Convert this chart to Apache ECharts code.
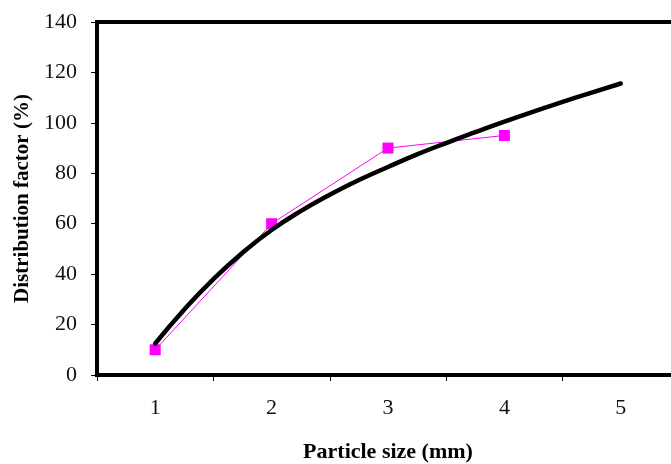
<!DOCTYPE html>
<html><head><meta charset="utf-8">
<script src="https://cdn.jsdelivr.net/npm/echarts@6/dist/echarts.min.js"></script>
<style>html,body{margin:0;padding:0;background:#fff}#c{width:671px;height:464px}</style>
</head><body><div id="c"></div>
<script>
const categories = ['1', '2', '3', '4', '5'];
const measuredX = [1, 2, 3, 4];
const measured = [10, 60, 90, 95];
const trendX = [1, 1.25, 1.5, 1.75, 2, 2.25, 2.5, 2.75, 3, 3.25, 3.5, 3.75, 4, 4.25, 4.5, 4.75, 5];
const trendY = [12.5, 26, 38, 48.5, 57.5, 65, 71.5, 77.3, 82.5, 87.5, 92, 96.3, 100.5, 104.5, 108.3, 112, 115.6];
const yTicks = [0, 20, 40, 60, 80, 100, 120, 140];

const chart = echarts.init(document.getElementById('c'), null, {renderer: 'canvas'});
const font = '"Liberation Serif", "Times New Roman", serif';
chart.setOption({
  animation: false,
  grid: {left: 97, right: -8, top: 22, bottom: 89, outerBoundsMode: 'none', containLabel: false,
    show: true, borderColor: '#000', borderWidth: 4, backgroundColor: 'transparent'},
  xAxis: [{
    type: 'category', data: categories, boundaryGap: true,
    name: 'Particle size (mm)', nameLocation: 'middle', nameGap: 66,
    nameTextStyle: {fontFamily: font, fontWeight: 'bold', fontSize: 22, color: '#000'},
    axisLine: {lineStyle: {color: '#000', width: 4}},
    axisTick: {show: true, inside: false, length: 6, lineStyle: {color: '#000', width: 1}},
    axisLabel: {fontFamily: font, fontSize: 22, color: '#111', margin: 22},
    splitLine: {show: false}
  }, {
    type: 'value', min: 0.5, max: 5.5, show: false
  }],
  yAxis: {
    type: 'value', min: 0, max: 140, interval: 20,
    name: 'Distribution factor (%)', nameLocation: 'middle', nameGap: 64,
    nameTextStyle: {fontFamily: font, fontWeight: 'bold', fontSize: 21, color: '#000'},
    axisLine: {show: true, lineStyle: {color: '#000', width: 4}},
    axisTick: {show: true, inside: false, length: 6, lineStyle: {color: '#000', width: 1}},
    axisLabel: {fontFamily: font, fontSize: 22, color: '#111', margin: 20,
      formatter: v => yTicks.includes(v) ? String(v) : ''},
    splitLine: {show: false}
  },
  series: [{
    type: 'line', xAxisIndex: 1, data: measuredX.map((x, i) => [x, measured[i]]),
    symbol: 'rect', symbolSize: 11, itemStyle: {color: '#ff00ff'},
    lineStyle: {color: '#ff00ff', width: 1}, z: 2
  }, {
    type: 'line', xAxisIndex: 1, data: trendX.map((x, i) => [x, trendY[i]]),
    smooth: true, symbol: 'none', lineStyle: {color: '#000', width: 4.5, cap: 'round'}, z: 3
  }]
});
</script></body></html>
